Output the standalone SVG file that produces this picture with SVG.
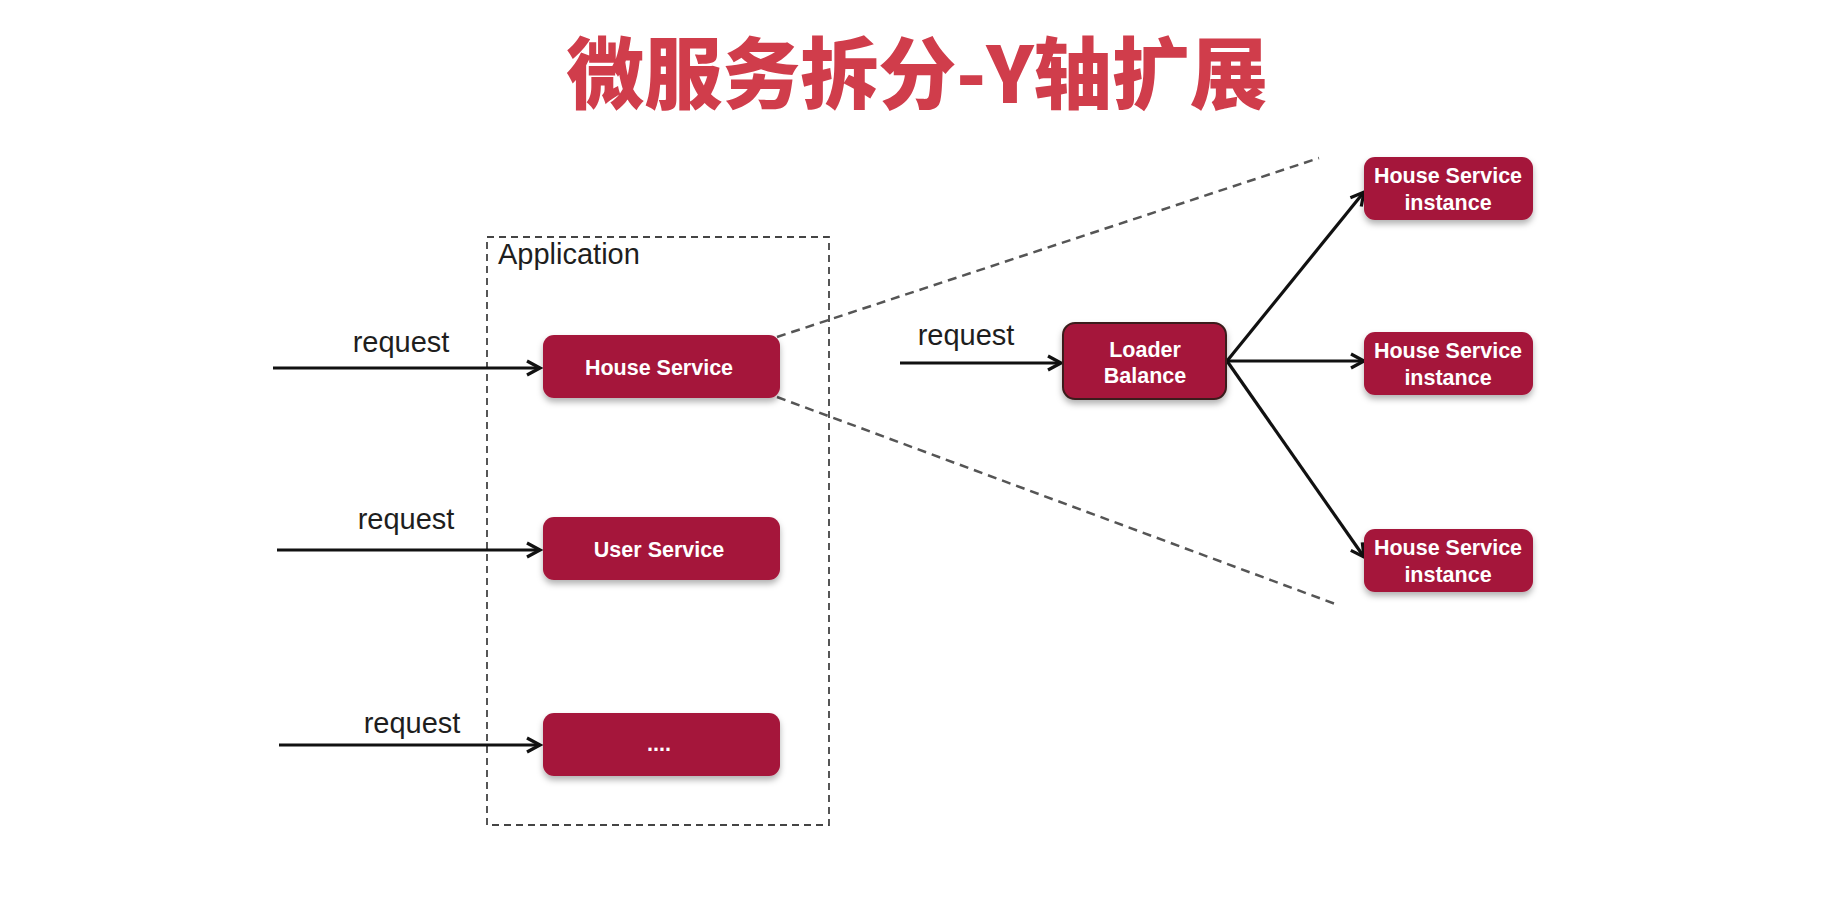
<svg xmlns="http://www.w3.org/2000/svg" width="1836" height="913" viewBox="0 0 1836 913">
<style>
.node{fill:#a5153a;filter:url(#sh)}
.lb{fill:#a5153a;stroke:#3a1c1c;stroke-width:2;filter:url(#sh)}
.nt{font-family:"Liberation Sans",Arial,sans-serif;font-weight:bold;font-size:21.5px;fill:#ffffff;text-anchor:middle}
.lbl{font-family:"Liberation Sans",Arial,sans-serif;font-size:29px;fill:#1e1e1e;text-anchor:middle}
.arr{stroke:#111;stroke-width:3.2;fill:none;marker-end:url(#ah)}
.dash{stroke:#555;stroke-width:2.5;fill:none;stroke-dasharray:9 6}
</style>
<defs>
<filter id="sh" x="-20%" y="-30%" width="140%" height="170%">
<feDropShadow dx="0" dy="4" stdDeviation="3" flood-color="#000" flood-opacity="0.3"/>
</filter>
<marker id="ah" markerUnits="userSpaceOnUse" markerWidth="20" markerHeight="20" viewBox="0 0 20 20" refX="17" refY="10" orient="auto">
<path d="M4,3 L17,10 L4,17" fill="none" stroke="#111" stroke-width="3.2" stroke-linejoin="miter"/>
</marker>
</defs>
<rect width="1836" height="913" fill="#ffffff"/>
<text x="917" y="103" font-family="'Noto Sans CJK SC',sans-serif" font-weight="900" font-size="78" fill="#d03d4b" text-anchor="middle">微服务拆分-Y轴扩展</text>

<g id="application">
<rect x="487" y="237" width="342" height="588" fill="none" stroke="#444" stroke-width="1.8" stroke-dasharray="7 5"/>
<text x="498" y="264" font-family="'Liberation Sans',Arial,sans-serif" font-size="29" fill="#1e1e1e">Application</text>
</g>

<g id="connectors">
<line class="dash" x1="777" y1="337" x2="1319" y2="158"/>
<line class="dash" x1="777" y1="397" x2="1338" y2="605"/>
<line class="arr" x1="273" y1="368" x2="540" y2="368"/>
<line class="arr" x1="277" y1="550" x2="540" y2="550"/>
<line class="arr" x1="279" y1="745" x2="540" y2="745"/>
<line class="arr" x1="900" y1="363" x2="1061" y2="363"/>
<line class="arr" x1="1227" y1="361" x2="1364" y2="192"/>
<line class="arr" x1="1227" y1="361" x2="1364" y2="361"/>
<line class="arr" x1="1227" y1="361" x2="1364" y2="557"/>
<text class="lbl" x="401" y="352">request</text>
<text class="lbl" x="406" y="529">request</text>
<text class="lbl" x="412" y="733">request</text>
<text class="lbl" x="966" y="345">request</text>
</g>

<g id="house-service">
<rect class="node" x="543" y="335" width="237" height="63" rx="11"/>
<text class="nt" x="659" y="375">House Service</text>
</g>
<g id="user-service">
<rect class="node" x="543" y="517" width="237" height="63" rx="11"/>
<text class="nt" x="659" y="557">User Service</text>
</g>
<g id="more-service">
<rect class="node" x="543" y="713" width="237" height="63" rx="11"/>
<text class="nt" x="659" y="751">....</text>
</g>
<g id="loader-balance">
<rect class="lb" x="1063" y="323" width="163" height="76" rx="12"/>
<text class="nt" x="1145" y="357">Loader</text>
<text class="nt" x="1145" y="383">Balance</text>
</g>
<g id="instance-1">
<rect class="node" x="1364" y="157" width="169" height="63" rx="11"/>
<text class="nt" x="1448" y="183">House Service</text>
<text class="nt" x="1448" y="210">instance</text>
</g>
<g id="instance-2">
<rect class="node" x="1364" y="332" width="169" height="63" rx="11"/>
<text class="nt" x="1448" y="358">House Service</text>
<text class="nt" x="1448" y="385">instance</text>
</g>
<g id="instance-3">
<rect class="node" x="1364" y="529" width="169" height="63" rx="11"/>
<text class="nt" x="1448" y="555">House Service</text>
<text class="nt" x="1448" y="582">instance</text>
</g>
</svg>
